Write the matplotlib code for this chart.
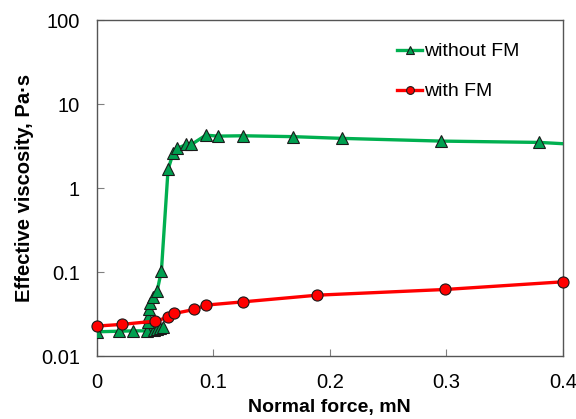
import numpy as np
import matplotlib
matplotlib.use('Agg')
from matplotlib import pyplot as plt
from matplotlib.ticker import FixedLocator, FixedFormatter, NullLocator

plt.rcParams['font.family'] = ['Liberation Sans', 'DejaVu Sans']

# without FM (green triangles)
force_wo = [0.0, 0.019, 0.031, 0.043, 0.049, 0.052, 0.054, 0.057,
            0.044, 0.044, 0.0449, 0.046, 0.0483, 0.0518, 0.0555,
            0.0612, 0.0655, 0.069, 0.077, 0.0813, 0.0936, 0.1041,
            0.1256, 0.1685, 0.2106, 0.2956, 0.380, 0.400]
visc_wo = [0.0195, 0.0198, 0.020, 0.020, 0.0205, 0.021, 0.0215, 0.022,
           0.0256, 0.0294, 0.036, 0.0424, 0.050, 0.0594, 0.104,
           1.67, 2.59, 2.97, 3.31, 3.31, 4.27, 4.16,
           4.2, 4.1, 3.91, 3.63, 3.5, 3.38]

# with FM (red circles)
force_w = [0.0, 0.0218, 0.0498, 0.0612, 0.0667, 0.0838, 0.0936,
           0.1256, 0.1894, 0.2993, 0.400]
visc_w = [0.0228, 0.0239, 0.0261, 0.0289, 0.0322, 0.036, 0.0405,
          0.0443, 0.0532, 0.0622, 0.0767]

y_ticks = [0.01, 0.1, 1, 10, 100]
y_labels = ['0.01', '0.1', '1', '10', '100']
x_ticks = [0, 0.1, 0.2, 0.3, 0.4]
x_labels = ['0', '0.1', '0.2', '0.3', '0.4']

fig = plt.figure(figsize=(5.76, 4.19), dpi=100)
ax = fig.add_axes([0.168, 0.150, 0.809, 0.802])

ax.plot(force_wo, visc_wo, color='#00B050', lw=2.4, marker='^', ms=8,
        mfc='#00A050', mec='#1a1a1a', mew=0.8,
        markevery=list(range(len(force_wo) - 1)), label='without FM', zorder=3)
ax.plot(force_w, visc_w, color='#FF0000', lw=2.4, marker='o', ms=8,
        mfc='#FF0000', mec='#1a1a1a', mew=0.8, label='with FM', zorder=4,
        clip_on=False)

ax.set_yscale('log')
ax.set_xlim(0, 0.4)
ax.set_ylim(0.01, 100)
ax.yaxis.set_major_locator(FixedLocator(y_ticks))
ax.yaxis.set_major_formatter(FixedFormatter(y_labels))
ax.yaxis.set_minor_locator(NullLocator())
ax.xaxis.set_major_locator(FixedLocator(x_ticks))
ax.xaxis.set_major_formatter(FixedFormatter(x_labels))

ax.tick_params(direction='in', length=5, width=0.8, color='#808080',
               labelsize=14.5, pad=12)
for s in ax.spines.values():
    s.set_color('#555555')
    s.set_linewidth(1.0)

ax.set_xlabel('Normal force, mN', fontsize=14, fontweight='bold', labelpad=5)
ax.set_ylabel('Effective viscosity, Pa·s', fontsize=14.5, fontweight='bold',
              labelpad=5)

leg = ax.legend(loc='upper left', bbox_to_anchor=(0.689, 0.898),
                bbox_transform=fig.transFigure, frameon=False, fontsize=14,
                handlelength=1.3, handletextpad=0.1, labelspacing=1.15,
                borderpad=0, borderaxespad=0, markerscale=0.7)

fig.savefig('out.png', dpi=100)
